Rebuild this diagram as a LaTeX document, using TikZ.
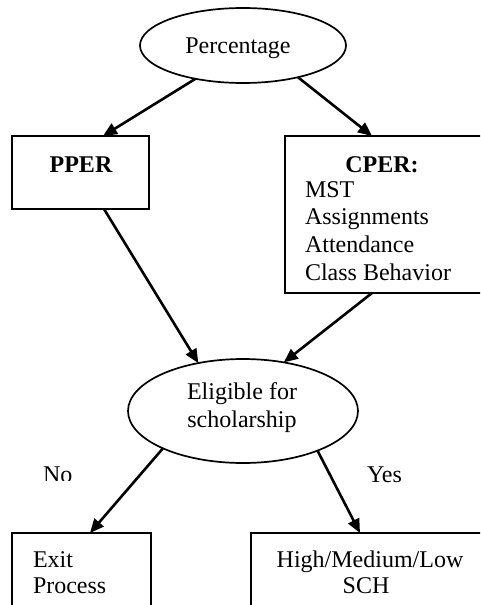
\documentclass[tikz,border=0pt]{standalone}
\usepackage{fontspec}
\setmainfont{Liberation Serif}
\usetikzlibrary{shapes.geometric,arrows.meta}
\begin{document}
\begin{tikzpicture}[x=1pt,y=-1pt,
  every node/.style={font=\fontsize{24}{28}\selectfont, inner sep=0pt, outer sep=0pt},
  oval/.style={draw, ellipse, line width=1.7pt, align=center},
  boxnode/.style={draw, rectangle, line width=1.7pt},
  conn/.style={line width=2.6pt, -{Triangle[length=14pt,width=12pt]}},
  txt/.style={anchor=base west},
  ctxt/.style={anchor=base}]
\clip (0,0) rectangle (480,605);
\fill[white] (0,0) rectangle (480,605);
% ellipses
\node[oval, minimum width=206pt, minimum height=75pt] (perc) at (243,45.5) {};
\node[ctxt] (percT) at (238,53) {Percentage};
\node[oval, minimum width=230pt, minimum height=104pt] (elig) at (243,411) {};
\node[ctxt] (eligA) at (242,399) {Eligible for};
\node[ctxt] (eligB) at (242,427) {scholarship};
% boxes
\node[boxnode, minimum width=137pt, minimum height=73pt] (pper) at (80.5,172.5) {};
\node[ctxt] (pperT) at (81,172) {\bfseries PPER};
\node[boxnode, minimum width=197pt, minimum height=157pt] (cper) at (383.5,214.5) {};
\node[ctxt] (cperT) at (382,172) {\bfseries CPER:};
\node[txt] (mst) at (305,197) {MST};
\node[txt] (asg) at (305,224) {Assignments};
\node[txt] (att) at (305,252) {Attendance};
\node[txt] (cb) at (305,280) {Class Behavior};
\node[boxnode, minimum width=139pt, minimum height=100pt] (exit) at (81.5,583) {};
\node[txt] (exitA) at (33,567) {Exit};
\node[txt] (exitB) at (33,593) {Process};
\node[boxnode, minimum width=231pt, minimum height=100pt] (high) at (366.5,583) {};
\node[ctxt] (highA) at (370,567) {High/Medium/Low};
\node[ctxt] (highB) at (366,593) {SCH};
% labels
\begin{scope}
\clip (30,455) rectangle (100,480);
\node[txt] (no) at (43,482) {No};
\end{scope}
\node[txt] (yes) at (367,482) {Yes};
% connectors
\draw[conn] (perc.215) -- ([xshift=22.5pt]pper.north);
\draw[conn] (perc.330) -- ([xshift=-11.5pt]cper.north);
\draw[conn] ([xshift=23.5pt]pper.south) -- (elig.133);
\draw[conn] ([xshift=-11.5pt]cper.south) -- (elig.50);
\draw[conn] (elig.205) -- ([xshift=8.5pt]exit.north);
\draw[conn] (elig.332) -- ([xshift=-6.5pt]high.north);
\end{tikzpicture}
\end{document}
